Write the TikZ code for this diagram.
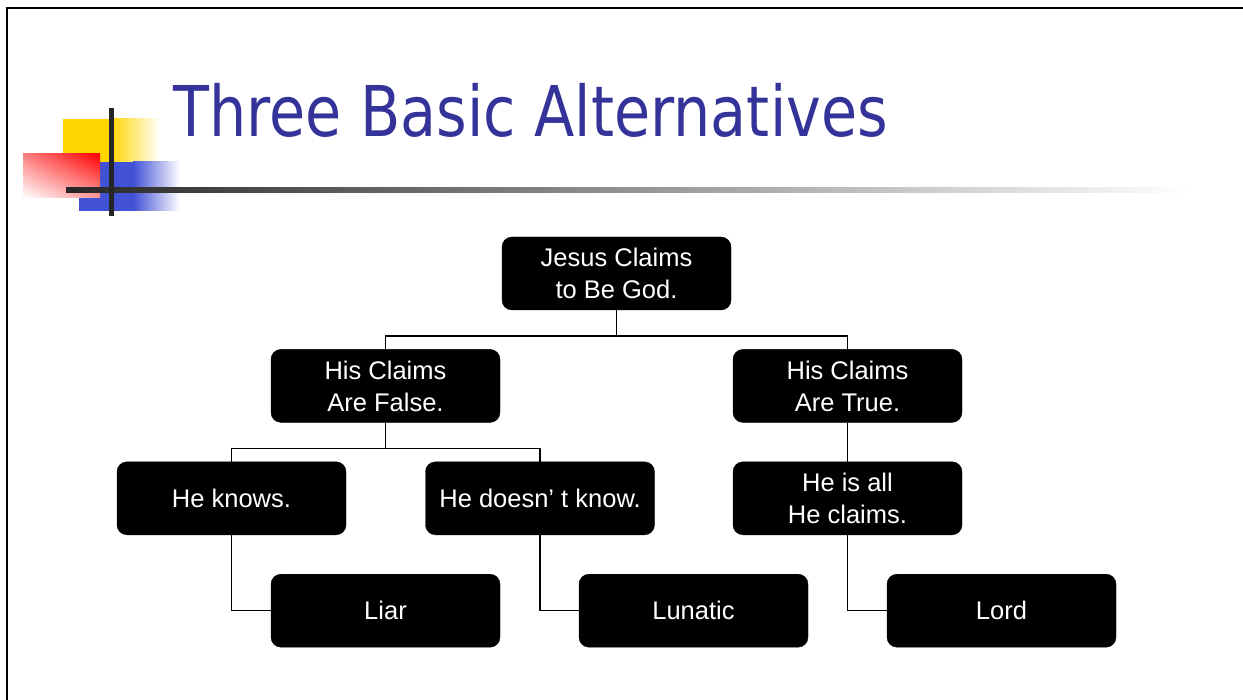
\documentclass[tikz,border=0pt]{standalone}
\usepackage{graphicx}
\usepackage{fontspec}
\setmainfont{Liberation Sans}
\newfontfamily\titlefont{DejaVu Sans}
\usetikzlibrary{positioning, shadings}
\definecolor{titleblue}{RGB}{51,51,153}
\definecolor{logoyellow}{RGB}{255,213,0}
\definecolor{logoblue}{RGB}{66,82,214}

\begin{document}
\begin{tikzpicture}[x=1pt, y=-1pt,
    box/.style={draw=black, fill=black, text=white, rounded corners=10pt,
                minimum width=229pt, minimum height=73pt, inner sep=0pt,
                font=\fontsize{25.5}{32}\selectfont, align=center},
    link/.style={line width=1.4pt}
  ]
  \useasboundingbox (0,0) rectangle (1243,700);
  % slide frame
  \draw[line width=2.5pt] (7,700) -- (7,8) -- (1243,8);

  % logo blocks
  \fill[logoyellow] (63,119) rectangle (110,162);
  \shade[left color=logoyellow, right color=white] (110,119) rectangle (160,162);
  \fill[logoblue] (79,162) rectangle (133,211);
  \shade[left color=logoblue, right color=white] (133,162) rectangle (180,211);
  \shade[upper right=red, lower left=white, upper left=red!50!white,
         lower right=red!40!white] (23,154) rectangle (100,198);
  \shade[left color=black!85, right color=white] (66,188) rectangle (1190,193);
  \fill[black!85] (109,108) rectangle (114,216);

  \node[anchor=base west, text=titleblue, inner sep=0pt] (title) at (173,137)
    {\scalebox{0.84}[1]{\titlefont\fontsize{70}{80}\selectfont Three Basic Alternatives}};

  % tree
  \node[box] (god) at (616.5,273.5) {Jesus Claims\\to Be God.};
  \node[box, below=39pt of god, xshift=-231pt] (false) {His Claims\\Are False.};
  \node[box, below=39pt of god, xshift=231pt]  (true)  {His Claims\\Are True.};
  \node[box, below=39pt of false, xshift=-154pt]  (knows)   {He knows.};
  \node[box, below=39pt of false, xshift=154.5pt] (unaware) {He doesn’ t know.};
  \node[box, below=39pt of true] (all) {He is all\\He claims.};
  \node[box, below=39pt of knows, xshift=154pt]     (liar)    {Liar};
  \node[box, below=39pt of unaware, xshift=153.5pt] (lunatic) {Lunatic};
  \node[box, below=39pt of all, xshift=154pt]       (lord)    {Lord};

  \draw[link] (god.south) -- ++(0,26) coordinate (split1);
  \draw[link] (false.north) |- (split1) -| (true.north);
  \draw[link] (false.south) -- ++(0,26) coordinate (split2);
  \draw[link] (knows.north) |- (split2) -| (unaware.north);
  \draw[link] (true) -- (all);
  \draw[link] (knows.south) |- (liar.west);
  \draw[link] (unaware.south) |- (lunatic.west);
  \draw[link] (all.south) |- (lord.west);
\end{tikzpicture}
\end{document}
